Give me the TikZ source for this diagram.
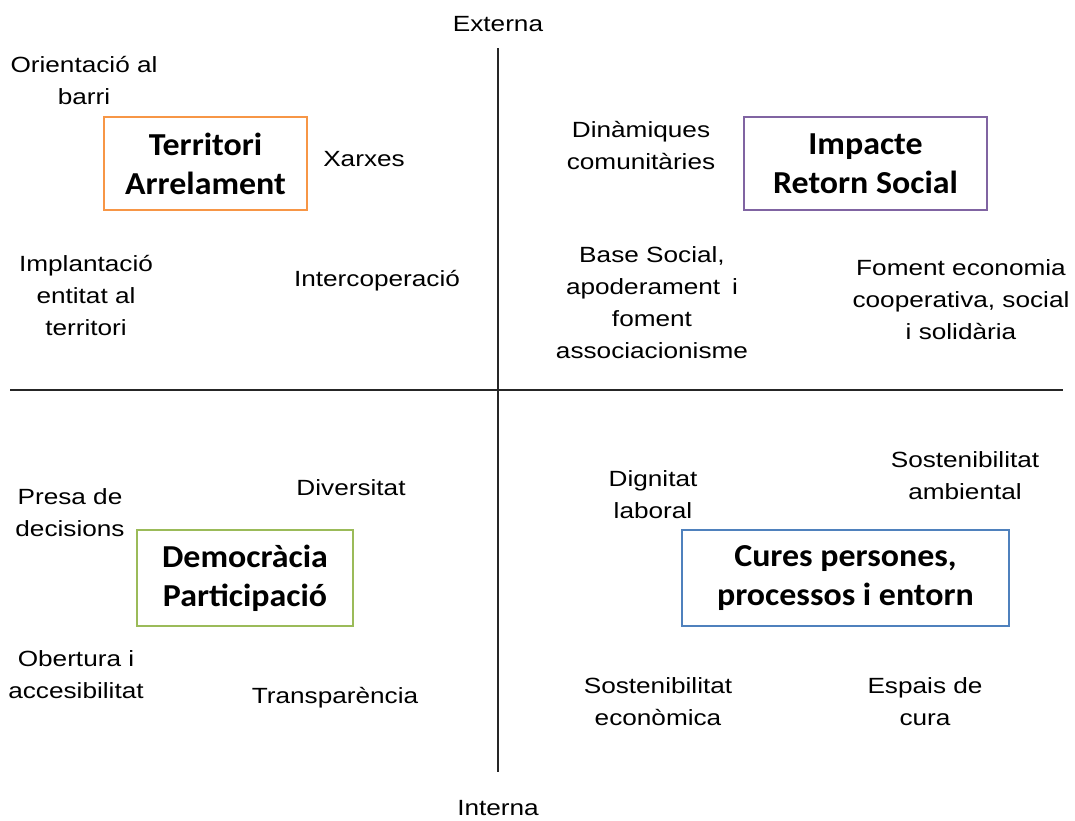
\documentclass[tikz,border=0pt]{standalone}
\usepackage{fontspec}
\setmainfont{Liberation Sans}[FakeStretch=1.19]
\newfontfamily\titlefont{Carlito}[FakeStretch=1.06]
\definecolor{axis}{HTML}{262626}
\definecolor{orangebox}{HTML}{F79646}
\definecolor{purplebox}{HTML}{8064A2}
\definecolor{greenbox}{HTML}{9BBB59}
\definecolor{bluebox}{HTML}{4F81BD}
\begin{document}
\begin{tikzpicture}[x=1pt,y=-1pt,
  lbl/.style={inner sep=0pt,align=center,font=\fontsize{22}{32}\selectfont},
  titlebox/.style={draw,line width=2.6pt,inner sep=0pt,align=center,
    font=\titlefont\bfseries\fontsize{32}{39}\selectfont},
  axisline/.style={draw=axis,line width=1.8pt}]
\useasboundingbox (0,0) rectangle (1075,820);
% axes
\coordinate (top) at (498,48);
\coordinate (bottom) at (498,772);
\coordinate (left) at (10,390);
\coordinate (right) at (1063,390);
\draw[axisline] (top) -- (bottom);
\draw[axisline] (left) -- (right);
\node[lbl] (ext) at (498,24) {Externa};
\node[lbl] (int) at (498,808) {Interna};
% boxes
\node[titlebox,draw=orangebox,minimum width=203pt,minimum height=93pt] (terr) at (205.5,163.5) {Territori\\Arrelament};
\node[titlebox,draw=purplebox,minimum width=243pt,minimum height=93pt] (imp) at (865.5,163.5) {Impacte\\Retorn Social};
\node[titlebox,draw=greenbox,minimum width=216pt,minimum height=96pt] (dem) at (245,578) {Democràcia\\Participació};
\node[titlebox,draw=bluebox,minimum width=327pt,minimum height=96pt] (cur) at (845.5,578) {Cures persones,\\processos i entorn};
% top-left labels
\node[lbl] (ori) at (84,81) {Orientació al\\barri};
\node[lbl] (xar) at (364,159) {Xarxes};
\node[lbl] (impl) at (86,295) {Implantació\\entitat al\\territori};
\node[lbl] (inter) at (377,281) {Intercoperació};
% top-right labels
\node[lbl] (din) at (641,146) {Dinàmiques\\comunitàries};
\node[lbl] (base) at (652,303) {Base Social,\\\makebox[172pt][s]{apoderament i}\\foment\\associacionisme};
\node[lbl] (fom) at (961,300) {Foment economia\\cooperativa, social\\i solidària};
% bottom-left labels
\node[lbl] (pres) at (70,513) {Presa de\\decisions};
\node[lbl] (div) at (351,488) {Diversitat};
\node[lbl] (obe) at (76,675) {Obertura i\\accesibilitat};
\node[lbl] (tra) at (335,698) {Transparència};
% bottom-right labels
\node[lbl] (dig) at (653,495) {Dignitat\\laboral};
\node[lbl] (samb) at (965,476) {Sostenibilitat\\ambiental};
\node[lbl] (seco) at (658,702) {Sostenibilitat\\econòmica};
\node[lbl] (esp) at (925,702) {Espais de\\cura};
\end{tikzpicture}
\end{document}
